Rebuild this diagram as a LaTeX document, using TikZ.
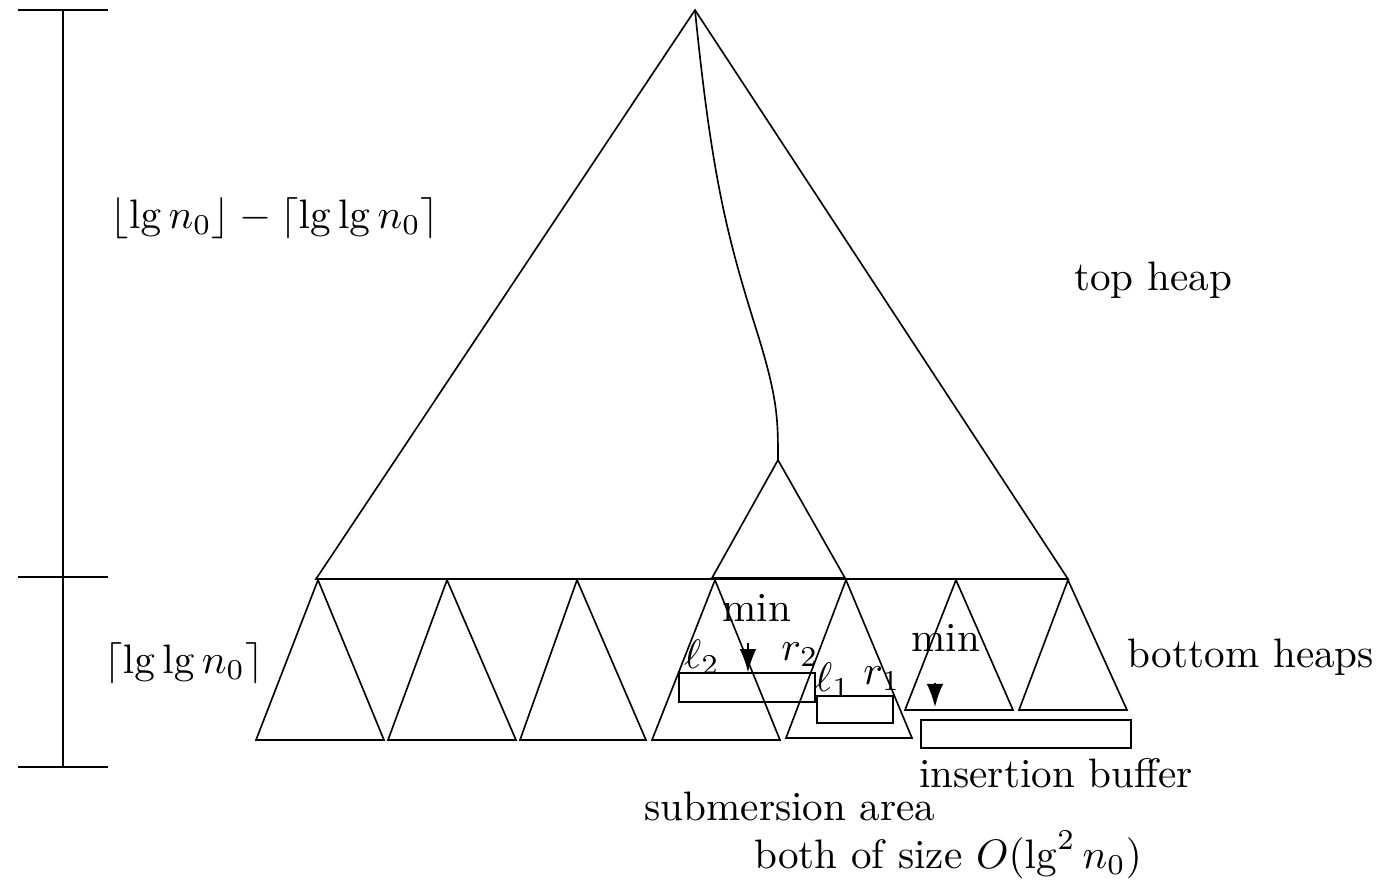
\documentclass[tikz,border=0pt]{standalone}
\usetikzlibrary{arrows.meta}
\tikzset{
  heap/.style={draw,line width=0.4pt},
  buffer/.style={draw,line width=0.4pt,inner sep=0pt},
  pointer/.style={draw,line width=0.4pt,-{Latex[length=5.6pt,width=4pt]}},
  measure/.style={draw,line width=0.4pt},
  tag/.style={inner sep=0pt}
}

\begin{document}
\begin{tikzpicture}[x=0.243pt,y=-0.243pt]
  \useasboundingbox (0,0) rectangle (1382,879);
  % height scale on the left
  \coordinate (mTop) at (63,10);
  \coordinate (mMid) at (63,577);
  \coordinate (mBot) at (63,767);
  \draw[measure] (mTop) -- (mBot);
  \foreach \m in {mTop,mMid,mBot}
    \draw[measure] ([xshift=-11pt]\m) -- ([xshift=11pt]\m);
  \node[tag] (hTop) at (275,218) {$\lfloor\lg n_0\rfloor - \lceil\lg\lg n_0\rceil$};
  \node[tag] (hBot) at (184,663) {$\lceil\lg\lg n_0\rceil$};

  % top heap
  \coordinate (root) at (695,10);
  \coordinate (topL) at (316,579);
  \coordinate (topR) at (1068,579);
  \draw[heap] (topL) -- (root) -- (topR) -- cycle;
  % path down to the subtree
  \coordinate (sub) at (778,460);
  \coordinate (subL) at (712,578);
  \coordinate (subR) at (845,578);
  \draw[heap] (root) .. controls (712,180) and (728,240) .. (758,335)
    .. controls (778,400) and (778,420) .. (sub);
  \draw[heap] (subL) -- (sub) -- (subR) -- cycle;

  % bottom heaps
  \foreach \i/\ax/\lx/\rx/\by in {1/318/256/384/740,2/447/388/516/740,
      3/577/520/646/740,4/715/652/780/740,5/846/786/912/738,
      6/956/905/1013/710,7/1068/1019/1127/710} {
    \coordinate (bt\i) at (\ax,580);
    \coordinate (bl\i) at (\lx,\by);
    \coordinate (br\i) at (\rx,\by);
    \draw[heap] (bl\i) -- (bt\i) -- (br\i) -- cycle;
  }

  % buffers
  \node[buffer,minimum width=33pt,minimum height=7pt] (subA) at (747,687.5) {};
  \node[buffer,minimum width=18.5pt,minimum height=6.6pt] (subB) at (855,709.5) {};
  \node[buffer,minimum width=51pt,minimum height=6.8pt] (ins) at (1026,734) {};

  % min pointers
  \coordinate (minA) at (748,643);
  \coordinate (minB) at (935,683);
  \coordinate (minBend) at (935,707);
  \draw[pointer] (minA) -- (subA.north -| minA);
  \draw[pointer] (minB) -- (minBend);

  % labels
  \node[tag] (minAl) at (757,608) {min};
  \node[tag] (minBl) at (946,638) {min};
  \node[tag] (l2) at (702,657) {$\ell_2$};
  \node[tag] (r2) at (800,655) {$r_2$};
  \node[tag] (l1) at (833,680) {$\ell_1$};
  \node[tag] (r1) at (882,679) {$r_1$};
  \node[tag] (topl) at (1153,280) {top heap};
  \node[tag] (botl) at (1251,657) {bottom heaps};
  \node[tag] (insl) at (1056,773) {insertion buffer};
  \node[tag] (subl) at (790,806) {submersion area};
  \node[tag] (size) at (948,855) {both of size $O(\lg^2 n_0)$};
\end{tikzpicture}
\end{document}
